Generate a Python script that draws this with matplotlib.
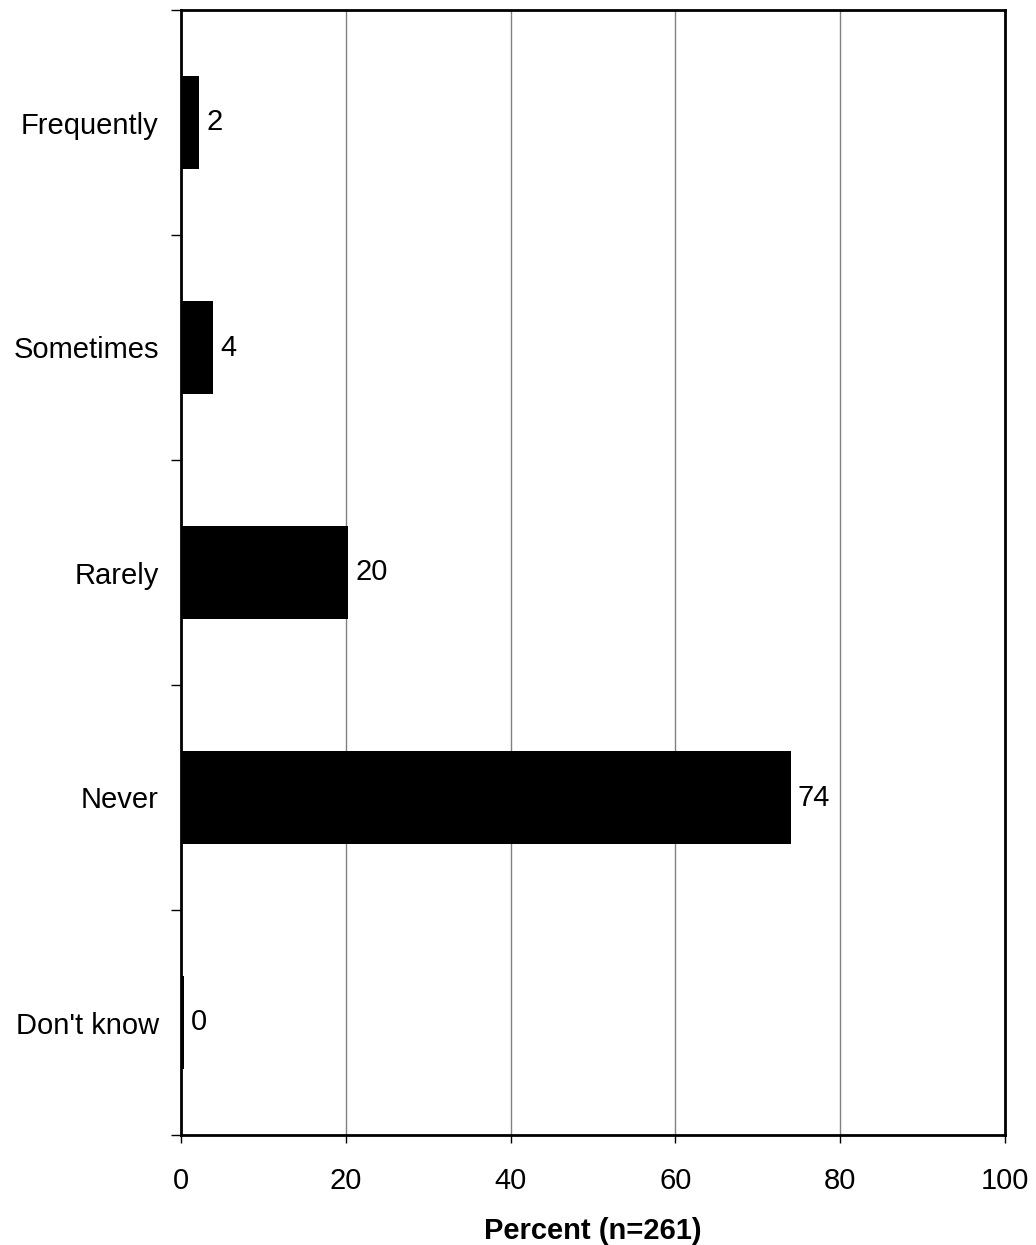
import numpy as np
import matplotlib.pyplot as plt

categories = ["Frequently", "Sometimes", "Rarely", "Never", "Don't know"]
percent = [2.2, 3.9, 20.3, 74.0, 0.4]
x_ticks = [0, 20, 40, 60, 80, 100]

plt.rcParams['font.family'] = ['Liberation Sans', 'DejaVu Sans']

fig = plt.figure(figsize=(10.36, 12.45), dpi=100)
ax = fig.add_axes([181 / 1036, 110 / 1245, 824 / 1036, 1125 / 1245])

pos = np.arange(len(categories))
ax.barh(pos, percent, height=0.41, color='black', zorder=3)
for p, v in zip(pos, percent):
    ax.annotate(f"{v:.0f}", (v, p), xytext=(5, 0), textcoords="offset points",
                va='center', ha='left', fontsize=21)

ax.set_ylim(len(categories) - 0.5, -0.5)
ax.set_xlim(0, 100)
ax.set_xticks(x_ticks)
ax.set_xticklabels([str(t) for t in x_ticks], fontsize=21)
ax.tick_params(axis='x', length=6, width=1, pad=17, direction='out')

# category labels at centres, tick marks at boundaries
ax.set_yticks(pos)
ax.set_yticklabels(categories, fontsize=21)
ax.tick_params(axis='y', which='major', length=0, pad=16)
ax.set_yticks(np.arange(-0.5, len(categories)), minor=True)
ax.tick_params(axis='y', which='minor', length=7, width=1, direction='out')

ax.grid(axis='x', color='#808080', linewidth=1, zorder=0)
for s in ax.spines.values():
    s.set_linewidth(2)

ax.set_xlabel("Percent (n=261)", fontsize=21, fontweight='bold', labelpad=16)

fig.savefig("out.png", dpi=100)
